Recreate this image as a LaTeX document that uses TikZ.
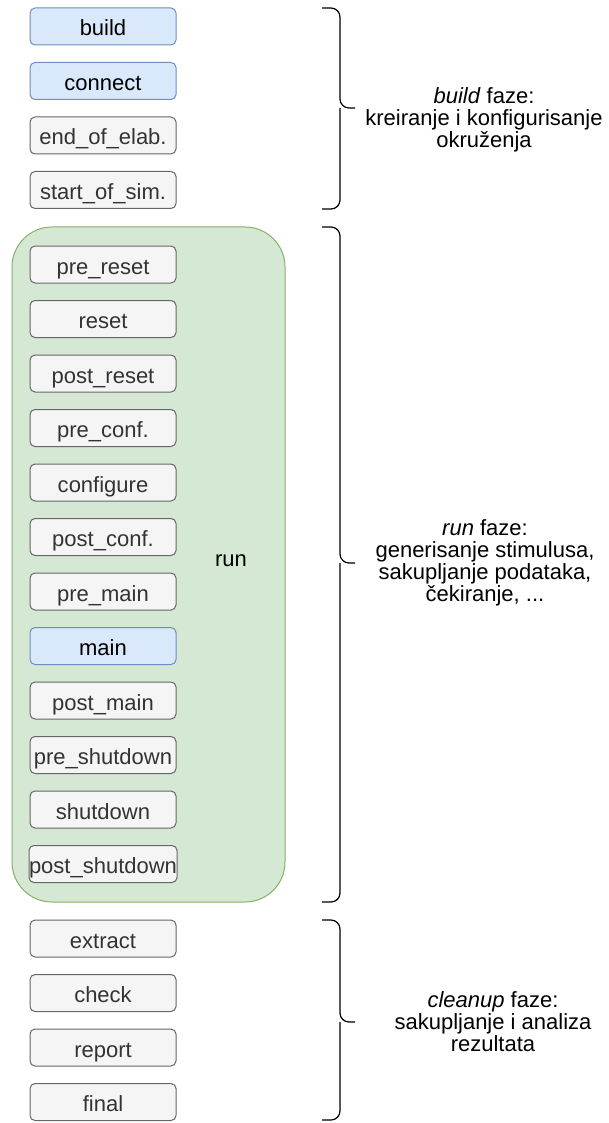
\documentclass[tikz,border=0pt]{standalone}
\usepackage{fontspec}
\setmainfont{Liberation Sans}
\usetikzlibrary{calc,shapes,arrows}
\definecolor{bluefill}{HTML}{DAE8FC}
\definecolor{blueline}{HTML}{6C8EBF}
\definecolor{grayfill}{HTML}{F5F5F5}
\definecolor{grayline}{HTML}{666666}
\definecolor{greenfill}{HTML}{D5E8D4}
\definecolor{greenline}{HTML}{82B366}
\definecolor{darktxt}{HTML}{333333}

\tikzset{
  phase/.style={draw=grayline, fill=grayfill, text=darktxt, line width=1pt,
    rounded corners=5pt, minimum width=146pt, minimum height=37pt,
    inner sep=0pt, text height=21pt, text depth=2pt,
    font=\fontsize{22}{22}\selectfont},
  mainphase/.style={phase, draw=blueline, fill=bluefill, text=black},
  note/.style={align=center, font=\fontsize{22}{22}\selectfont},
  bracket/.style={draw, line width=1.2pt, rounded corners=9pt}
}

\begin{document}
\begin{tikzpicture}[x=1pt,y=-1pt]
        \useasboundingbox (0,0) rectangle (609,1123);
        % run container
        \draw[greenline, fill=greenfill, line width=1pt, rounded corners=40pt] (12,227) rectangle (285,902);
        \node[font=\fontsize{22}{22}\selectfont] (run) at (231,561) {run};
        % build phases
        \foreach \nm/\st/\lbl [count=\i from 0] in {build/mainphase/build,
            connect/mainphase/connect, endelab/phase/end\_of\_elab.,
            startsim/phase/start\_of\_sim.}
        \node[\st] (\nm) at (103,26.5+54.5*\i) {\lbl};
        % run phases
        \foreach \nm/\st/\lbl [count=\i from 0] in {prereset/phase/pre\_reset,
            reset/phase/reset, postreset/phase/post\_reset,
            preconf/phase/pre\_conf., configure/phase/configure,
            postconf/phase/post\_conf., premain/phase/pre\_main,
            main/mainphase/main, postmain/phase/post\_main,
            preshutdown/phase/pre\_shutdown, shutdown/phase/shutdown,
            postshutdown/phase/post\_shutdown}
        \node[\st] (\nm) at (103,264.5+54.5*\i) {\lbl};
        % cleanup phases
        \foreach \nm/\lbl [count=\i from 0] in {extract/extract, check/check,
            report/report, final/final}
        \node[phase] (\nm) at (103,938.5+54.5*\i) {\lbl};
        % braces
        \draw[bracket] (322,8) -| (340,108) -- (355,108);
        \draw[bracket] (322,209) -| (340,108);
        \draw[bracket] (322,227) -| (340,563) -- (355,563);
        \draw[bracket] (322,902) -| (340,563);
        \draw[bracket] (322,920) -| (340,1022) -- (355,1022);
        \draw[bracket] (322,1120) -| (340,1022);
        % notes
        \node[note] (buildnote) at (484,120) {\textit{build} faze:\\kreiranje i konfigurisanje\\okruženja};
        \node[note] (runnote) at (485,563) {\textit{run} faze:\\generisanje stimulusa,\\sakupljanje podataka,\\čekiranje, ...};
        \node[note] (cleanupnote) at (493,1022) {\textit{cleanup} faze:\\sakupljanje i analiza\\rezultata};
    \end{tikzpicture}
\end{document}
